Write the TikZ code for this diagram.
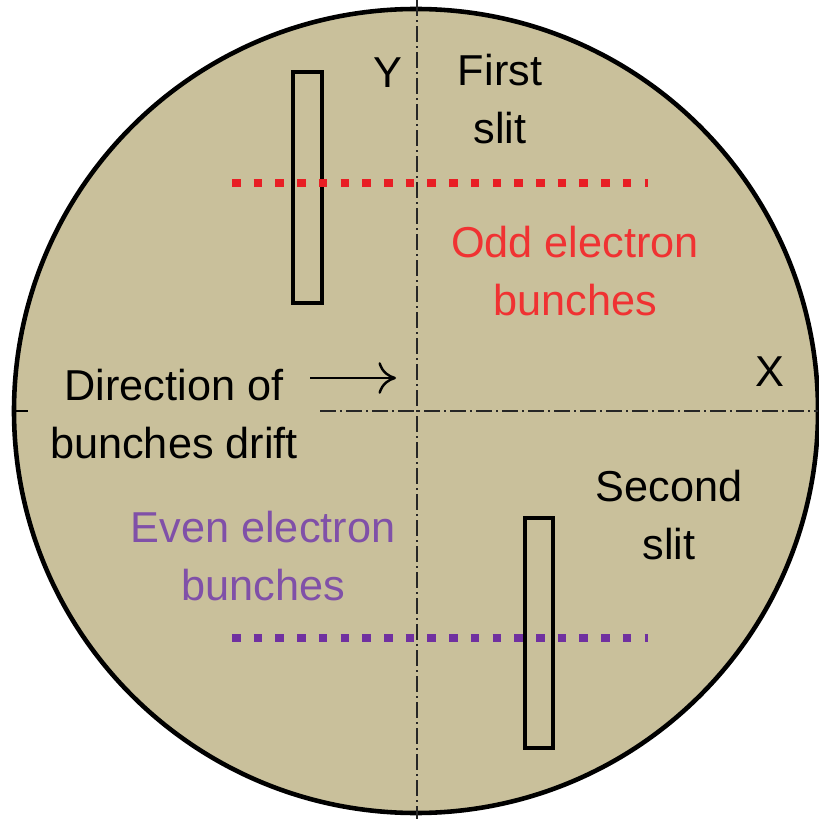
\documentclass[tikz,border=0pt]{standalone}
\usepackage{fontspec}
\setmainfont{Liberation Sans}
\usetikzlibrary{arrows.meta}

\definecolor{screen}{RGB}{201,192,155}
\definecolor{oddred}{RGB}{232,30,36}
\definecolor{evenpurple}{RGB}{112,48,160}
\definecolor{oddtext}{RGB}{240,50,50}
\definecolor{eventext}{RGB}{128,80,168}

\tikzset{
  axisline/.style={line width=0.75pt, black!85, dash pattern=on 0.16cm off 0.04cm on 0.02cm off 0.04cm},
  slitbox/.style={draw, line width=1.2pt},
  bunchdots/.style={line width=0.085cm, dash pattern=on 0.085cm off 0.132cm},
  lbl/.style={font=\fontsize{12.3pt}{16.5pt}\selectfont, align=center, inner sep=0pt}
}

\begin{document}
\begin{tikzpicture}[x=0.01cm, y=-0.01cm]
        \useasboundingbox (0,0) rectangle (818,819);

        % Ecran
        \draw[fill=screen, line width=1.3pt] (416,411) circle (402);

        % Axes
        \draw[axisline] (417,0) -- (417,819);
        \draw[axisline] (320,411) -- (818,411);
        \draw[line width=0.75pt] (13,411) -- (28,411);

        % Fentes
        \node[slitbox, minimum width=0.29cm, minimum height=2.31cm] (slitA) at (307.5,187.5) {};
        \node[slitbox, minimum width=0.28cm, minimum height=2.30cm] (slitB) at (539,633) {};

        % Paquets d'electrons
        \draw[bunchdots, oddred] (232,183) -- (648,183);
        \draw[bunchdots, evenpurple] (232,638) -- (648,638);

        % Textes
        \node[lbl] (ylab) at (388,73) {Y};
        \node[lbl] (xlab) at (770,372) {X};
        \node[lbl] (first) at (500,99) {First\\slit};
        \node[lbl, text=oddtext] (odd) at (575,271) {Odd electron\\bunches};
        \node[lbl] (drift) at (174,414) {Direction of\\bunches drift};
        \node[lbl] (second) at (669,515) {Second\\slit};
        \node[lbl, text=eventext] (even) at (263,556) {Even electron\\bunches};

        % Fleche de derive
        \coordinate (arrA) at (310,378);
        \coordinate (arrB) at (396,378);
        \draw[-{To[length=5pt, width=9pt]}, line width=0.7pt] (arrA) -- (arrB);
    \end{tikzpicture}
\end{document}
